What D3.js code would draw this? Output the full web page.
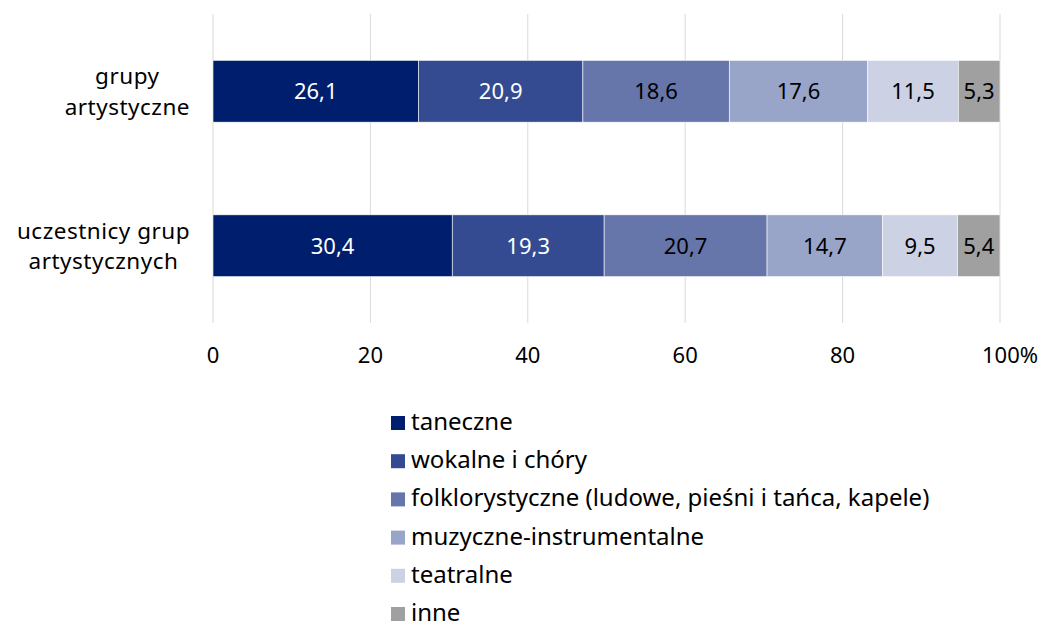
<!DOCTYPE html>
<html>
<head>
<meta charset="utf-8">
<script src="https://cdn.jsdelivr.net/npm/d3@7"></script>
<style>
  body { margin: 0; background: #fff; }
  svg text { font-family: "Noto Sans", sans-serif; }
</style>
</head>
<body>
<div id="chart"></div>
<script>
const categories = [["grupy", "artystyczne"], ["uczestnicy grup", "artystycznych"]];
const seriesNames = [
    "taneczne",
    "wokalne i chóry",
    "folklorystyczne (ludowe, pieśni i tańca, kapele)",
    "muzyczne-instrumentalne",
    "teatralne",
    "inne"
];
const grupyValues = [26.1, 20.9, 18.6, 17.6, 11.5, 5.3];
const uczestnicyValues = [30.4, 19.3, 20.7, 14.7, 9.5, 5.4];
const xTicks = [0, 20, 40, 60, 80, 100];
const colors = ["#001e6e", "#344b92", "#6675aa", "#99a5c8", "#ccd1e4", "#a0a0a0"];
const labelColors = ["#fff", "#fff", "#000", "#000", "#000", "#000"];

const width = 1043;
const height = 628;
const marginLeft = 213;
const marginRight = 43;
const marginTop = 14;
const plotBottom = 323;

const rows = [grupyValues, uczestnicyValues];

const svg = d3.select("#chart")
    .append("svg")
    .attr("width", width)
    .attr("height", height);

const x = d3.scaleLinear()
    .domain([0, 100])
    .range([marginLeft, width - marginRight]);

const y = d3.scaleBand()
    .domain(d3.range(categories.length))
    .range([marginTop, plotBottom])
    .paddingInner(0.6)
    .paddingOuter(0.3);

// grid lines
svg.append("g")
    .selectAll("line")
    .data(xTicks)
    .enter()
    .append("line")
    .attr("x1", (d) => x(d))
    .attr("x2", (d) => x(d))
    .attr("y1", marginTop)
    .attr("y2", plotBottom)
    .attr("stroke", "#d9d9d9")
    .attr("stroke-width", 1);

// x tick labels
svg.append("g")
    .selectAll("text")
    .data(xTicks)
    .enter()
    .append("text")
    .attr("x", (d) => x(d))
    .attr("y", 363)
    .attr("text-anchor", "middle")
    .style("font-size", "22px")
    .style("fill", "#000")
    .text((d) => (d === 100 ? "100%" : d))
    .attr("dx", (d) => (d === 100 ? 10 : 0));

// stacked bars
rows.forEach((vals, ri) => {
    let acc = 0;
    const segs = vals.map((v, i) => {
        const s = { x0: acc, x1: acc + v, v: v, i: i };
        acc += v;
        return s;
    });
    const g = svg.append("g").attr("transform", `translate(0,${y(ri)})`);
    g.selectAll("rect")
        .data(segs)
        .enter()
        .append("rect")
        .attr("x", (d) => x(d.x0))
        .attr("width", (d) => x(d.x1) - x(d.x0))
        .attr("y", 0)
        .attr("height", y.bandwidth())
        .attr("fill", (d) => colors[d.i])
        .attr("stroke", "#fff")
        .attr("stroke-width", 0.6);
    g.selectAll("text")
        .data(segs)
        .enter()
        .append("text")
        .attr("x", (d) => (x(d.x0) + x(d.x1)) / 2)
        .attr("y", y.bandwidth() / 2)
        .attr("dy", "0.36em")
        .attr("text-anchor", "middle")
        .style("font-size", "22px")
        .style("fill", (d) => labelColors[d.i])
        .text((d) => d3.format(".1f")(d.v).replace(".", ","));
});

// category labels, lines centred on each other, block ending near the axis
categories.forEach((lines, ci) => {
    const t = svg.append("text")
        .style("font-size", "22.5px")
        .style("letter-spacing", "0.5px")
        .style("fill", "#000")
        .attr("text-anchor", "middle");
    const spans = lines.map((line, li) =>
        t.append("tspan")
            .attr("y", y(ci) + y.bandwidth() / 2 + (li - (lines.length - 1) / 2) * 30.7)
            .attr("dy", "0.36em")
            .text(line));
    const widest = d3.max(spans, (s) => s.node().getComputedTextLength());
    const cx = marginLeft - 23 - widest / 2;
    spans.forEach((s) => s.attr("x", cx));
});

// legend
const legend = svg.append("g")
    .selectAll("g")
    .data(seriesNames)
    .enter()
    .append("g")
    .attr("transform", (d, i) => `translate(391,${430 + i * 38.2})`);

legend.append("rect")
    .attr("x", 0)
    .attr("y", -14)
    .attr("width", 14)
    .attr("height", 14)
    .attr("fill", (d, i) => colors[i]);

legend.append("text")
    .attr("x", 20)
    .attr("y", 0)
    .style("font-size", "24px")
    .style("fill", "#000")
    .text((d) => d);
</script>
</body>
</html>
